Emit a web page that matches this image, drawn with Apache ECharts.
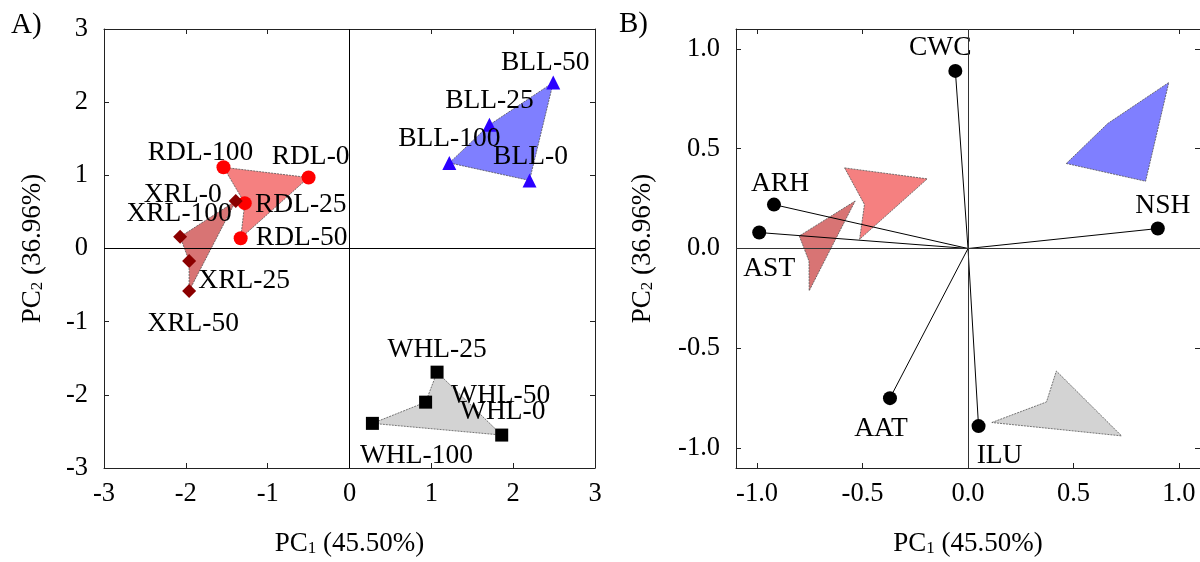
<!DOCTYPE html>
<html>
<head>
<meta charset="utf-8">
<script src="https://cdn.jsdelivr.net/npm/echarts@6/dist/echarts.min.js"></script>
<style>
  html, body { margin: 0; padding: 0; background: #fff; }
  #main { width: 1200px; height: 562px; }
</style>
</head>
<body>
<div id="main"></div>
<script>
// ---- data: panel A, scores (listed in hull order) ----
var rdlNames = ['RDL-100', 'RDL-0', 'RDL-50', 'RDL-25'];
var rdlPC1 = [-1.54, -0.50, -1.33, -1.28];
var rdlPC2 = [1.11, 0.97, 0.14, 0.62];

var xrlNames = ['XRL-0', 'XRL-100', 'XRL-25', 'XRL-50'];
var xrlPC1 = [-1.39, -2.07, -1.96, -1.96];
var xrlPC2 = [0.65, 0.16, -0.17, -0.58];

var bllNames = ['BLL-100', 'BLL-25', 'BLL-50', 'BLL-0'];
var bllPC1 = [1.22, 1.71, 2.49, 2.20];
var bllPC2 = [1.17, 1.69, 2.27, 0.93];

var whlNames = ['WHL-100', 'WHL-50', 'WHL-25', 'WHL-0'];
var whlPC1 = [0.28, 0.93, 1.07, 1.86];
var whlPC2 = [-2.39, -2.10, -1.69, -2.55];

// ---- data: panel B, loadings and scaled group hulls ----
var loadNames = ['CWC', 'ARH', 'AST', 'NSH', 'AAT', 'ILU'];
var loadPC1 = [-0.06, -0.92, -0.99, 0.90, -0.37, 0.05];
var loadPC2 = [0.89, 0.22, 0.08, 0.10, -0.75, -0.89];

var rdlHullPC1 = [-0.585, -0.193, -0.514, -0.491];
var rdlHullPC2 = [0.404, 0.349, 0.046, 0.221];
var xrlHullPC1 = [-0.535, -0.80, -0.754, -0.753];
var xrlHullPC2 = [0.238, 0.063, -0.063, -0.212];
var bllHullPC1 = [0.466, 0.662, 0.952, 0.842];
var bllHullPC2 = [0.426, 0.626, 0.832, 0.337];
var whlHullPC1 = [0.113, 0.372, 0.419, 0.728];
var whlHullPC2 = [-0.872, -0.769, -0.614, -0.939];

var ticksA = [-3, -2, -1, 0, 1, 2, 3];
var ticksB = [-1, -0.5, 0, 0.5, 1];

// label placement (pixel offset from the marker centre)
var labelOffsets = {
    'RDL-100': [-23, -15], 'RDL-0': [2, -21], 'RDL-25': [56, 2], 'RDL-50': [61, 0],
    'XRL-0': [-53, -6], 'XRL-100': [-1, -23], 'XRL-25': [55, 20], 'XRL-50': [4, 33],
    'BLL-50': [-8, -20], 'BLL-25': [0, -24], 'BLL-100': [0, -24], 'BLL-0': [1, -24],
    'WHL-25': [0, -22], 'WHL-50': [75, -6], 'WHL-0': [1, -23], 'WHL-100': [44, 32],
    'CWC': [-15, -23], 'ARH': [6, -21], 'AST': [10, 36], 'NSH': [5, -23],
    'AAT': [-9, 31], 'ILU': [21, 30]
};

var font = '"Liberation Serif", "Times New Roman", serif';
var myChart = echarts.init(document.getElementById('main'));

function pairs(xs, ys) {
    return xs.map(function (x, i) { return [x, ys[i]]; });
}

// filled hull drawn through the axes of the grid
function hull(axis, xs, ys, fill) {
    var pts = pairs(xs, ys);
    return {
        type: 'custom',
        xAxisIndex: axis, yAxisIndex: axis,
        silent: true, z: 1,
        data: pts,
        renderItem: function (params, api) {
            if (params.dataIndex !== 0) return null;
            return {
                type: 'polygon',
                shape: { points: pts.map(function (p) { return api.coord(p); }) },
                style: { fill: fill, stroke: '#555', lineWidth: 0.8, lineDash: [2, 1] }
            };
        }
    };
}

function points(axis, names, xs, ys, symbol, size, color) {
    return {
        type: 'scatter',
        xAxisIndex: axis, yAxisIndex: axis,
        symbol: symbol, symbolSize: size, z: 3,
        itemStyle: { color: color, opacity: 1 },
        label: {
            show: true, position: 'inside', formatter: '{b}',
            color: '#000', fontFamily: font, fontSize: 27.5
        },
        data: names.map(function (n, i) {
            return { name: n, value: [xs[i], ys[i]], label: { offset: labelOffsets[n] } };
        })
    };
}

// vectors from the origin for the loadings
var vectors = {
    type: 'custom',
    xAxisIndex: 2, yAxisIndex: 2, silent: true, z: 2,
    data: pairs(loadPC1, loadPC2),
    renderItem: function (params, api) {
        var o = api.coord([0, 0]);
        var p = api.coord([api.value(0), api.value(1)]);
        return {
            type: 'line',
            shape: { x1: o[0], y1: o[1], x2: p[0], y2: p[1] },
            style: { stroke: '#000', lineWidth: 1 }
        };
    }
};

function zeroLines(color) {
    return {
        silent: true, symbol: 'none', label: { show: false },
        lineStyle: { color: color, width: 1, type: 'solid' },
        data: [{ xAxis: 0 }, { yAxis: 0 }]
    };
}

var nameRich = {
    a: { fontFamily: font, fontSize: 27, color: '#000' },
    s: { fontFamily: font, fontSize: 17, lineHeight: 9, verticalAlign: 'bottom', color: '#000' }
};

function axis(grid, pos, min, max, ticks, fmt, name, gap) {
    var main = (pos === 'bottom' || pos === 'left');
    var a = {
        type: 'value', gridIndex: grid, position: pos,
        min: min, max: max,
        axisLine: { show: true, onZero: false, lineStyle: { color: '#222', width: 1 } },
        axisTick: { show: true, inside: true, length: 5, customValues: ticks, lineStyle: { color: '#222' } },
        axisLabel: {
            show: main, customValues: ticks, formatter: fmt,
            margin: (pos === 'bottom') ? 13 : 16,
            fontFamily: font, fontSize: 26.5, color: '#000'
        },
        splitLine: { show: false }
    };
    if (main && name) {
        a.name = name;
        a.nameLocation = 'middle';
        a.nameGap = gap;
        a.nameTextStyle = { rich: nameRich };
    }
    return a;
}

var fmtA = function (v) { return String(v); };
var fmtB = function (v) { return v.toFixed(1); };
var xName = '{a|PC}{s|1}{a| (45.50%)}';
var yName = '{a|PC}{s|2}{a| (36.96%)}';

var xrlSeries = points(0, xrlNames, xrlPC1, xrlPC2, 'diamond', 14, '#8b0000');
xrlSeries.markLine = zeroLines('#000');
var loadSeries = points(2, loadNames, loadPC1, loadPC2, 'circle', 14, '#000');
loadSeries.markLine = zeroLines('#333');

var option = {
    animation: false,
    title: [
        { text: 'A)', left: 11, top: 11, padding: 0, textStyle: { fontFamily: font, fontSize: 29, fontWeight: 'normal', color: '#000' } },
        { text: 'B)', left: 619, top: 10, padding: 0, textStyle: { fontFamily: font, fontSize: 29, fontWeight: 'normal', color: '#000' } }
    ],
    grid: [
        { left: 104, top: 29, width: 491, height: 441 },
        { left: 736, top: 29, width: 467, height: 441 }
    ],
    xAxis: [
        axis(0, 'bottom', -3, 3, ticksA, fmtA, xName, 62),
        axis(0, 'top', -3, 3, ticksA, fmtA),
        axis(1, 'bottom', -1.1, 1.1, ticksB, fmtB, xName, 62),
        axis(1, 'top', -1.1, 1.1, ticksB, fmtB)
    ],
    yAxis: [
        axis(0, 'left', -3, 3, ticksA, fmtA, yName, 58),
        axis(0, 'right', -3, 3, ticksA, fmtA),
        axis(1, 'left', -1.1, 1.1, ticksB, fmtB, yName, 80),
        axis(1, 'right', -1.1, 1.1, ticksB, fmtB)
    ],
    series: [
        hull(0, rdlPC1, rdlPC2, '#f58080'),
        hull(0, xrlPC1, xrlPC2, '#d87474'),
        hull(0, bllPC1, bllPC2, '#7f7fff'),
        hull(0, whlPC1, whlPC2, '#d3d3d3'),
        points(0, rdlNames, rdlPC1, rdlPC2, 'circle', 14, '#ff0000'),
        xrlSeries,
        points(0, bllNames, bllPC1, bllPC2, 'triangle', 14, '#2b00ff'),
        points(0, whlNames, whlPC1, whlPC2, 'rect', 13, '#000'),
        hull(2, rdlHullPC1, rdlHullPC2, '#f58080'),
        hull(2, xrlHullPC1, xrlHullPC2, '#d87474'),
        hull(2, bllHullPC1, bllHullPC2, '#7f7fff'),
        hull(2, whlHullPC1, whlHullPC2, '#d3d3d3'),
        vectors,
        loadSeries
    ]
};

myChart.setOption(option);
</script>
</body>
</html>
